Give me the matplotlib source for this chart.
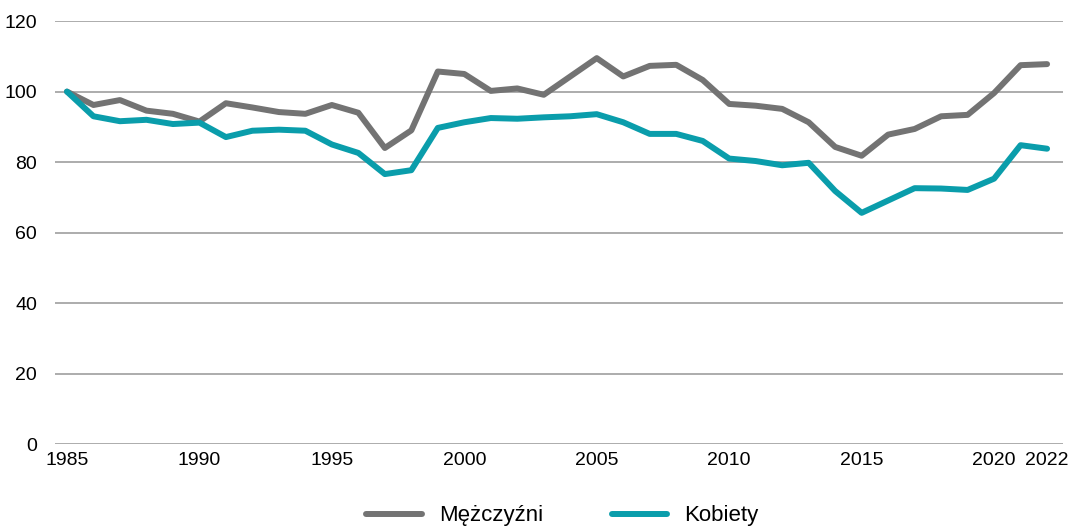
import numpy as np
import matplotlib
matplotlib.use('Agg')
from matplotlib import pyplot as plt

years = list(range(1985, 2023))
men = [100, 96.2, 97.6, 94.6, 93.7, 91.5, 96.7, 95.5, 94.2, 93.7,
       96.2, 94.0, 84.0, 89.0, 105.7, 105.0, 100.2, 100.9, 99.1, 104.3,
       109.5, 104.3, 107.3, 107.6, 103.3, 96.5, 96.0, 95.1, 91.3, 84.3,
       81.8, 87.8, 89.4, 93.0, 93.4, 99.6, 107.5, 107.8]
women = [100, 93.0, 91.6, 92.0, 90.8, 91.2, 87.1, 88.9, 89.2, 88.9,
         85.0, 82.6, 76.6, 77.7, 89.7, 91.3, 92.5, 92.3, 92.7, 93.0,
         93.6, 91.3, 88.0, 88.0, 86.0, 81.0, 80.3, 79.1, 79.8, 71.8,
         65.6, 69.1, 72.6, 72.5, 72.1, 75.3, 84.8, 83.8]
xticks = [1985, 1990, 1995, 2000, 2005, 2010, 2015, 2020, 2022]
yticks = [0, 20, 40, 60, 80, 100, 120]

plt.rcParams['font.family'] = ['Liberation Sans', 'DejaVu Sans']

fig = plt.figure(figsize=(10.71, 5.28), dpi=100)
ax = fig.add_axes([0.0514, 0.159, 0.9411, 0.801])

ax.plot(years, men, color='#737373', lw=4.3, label='Mężczyźni', solid_capstyle='round')
ax.plot(years, women, color='#0a9dab', lw=4.3, label='Kobiety', solid_capstyle='round')

ax.set_ylim(0, 120)
ax.set_xlim(1984.55, 2022.6)
ax.set_yticks(yticks)
ax.set_xticks(xticks)
ax.grid(axis='y', color='#a6a6a6', lw=1.3)
ax.set_axisbelow(True)
for s in ax.spines.values():
    s.set_visible(False)
ax.tick_params(length=0, labelsize=14, colors='black')
ax.tick_params(axis='y', pad=13)
ax.tick_params(axis='x', pad=6)

fig.legend(loc='lower center', bbox_to_anchor=(0.525, -0.035), ncol=2, frameon=False,
           fontsize=16, handlelength=2.5, columnspacing=3.1, handletextpad=0.75)

fig.savefig('out.png', dpi=100)
